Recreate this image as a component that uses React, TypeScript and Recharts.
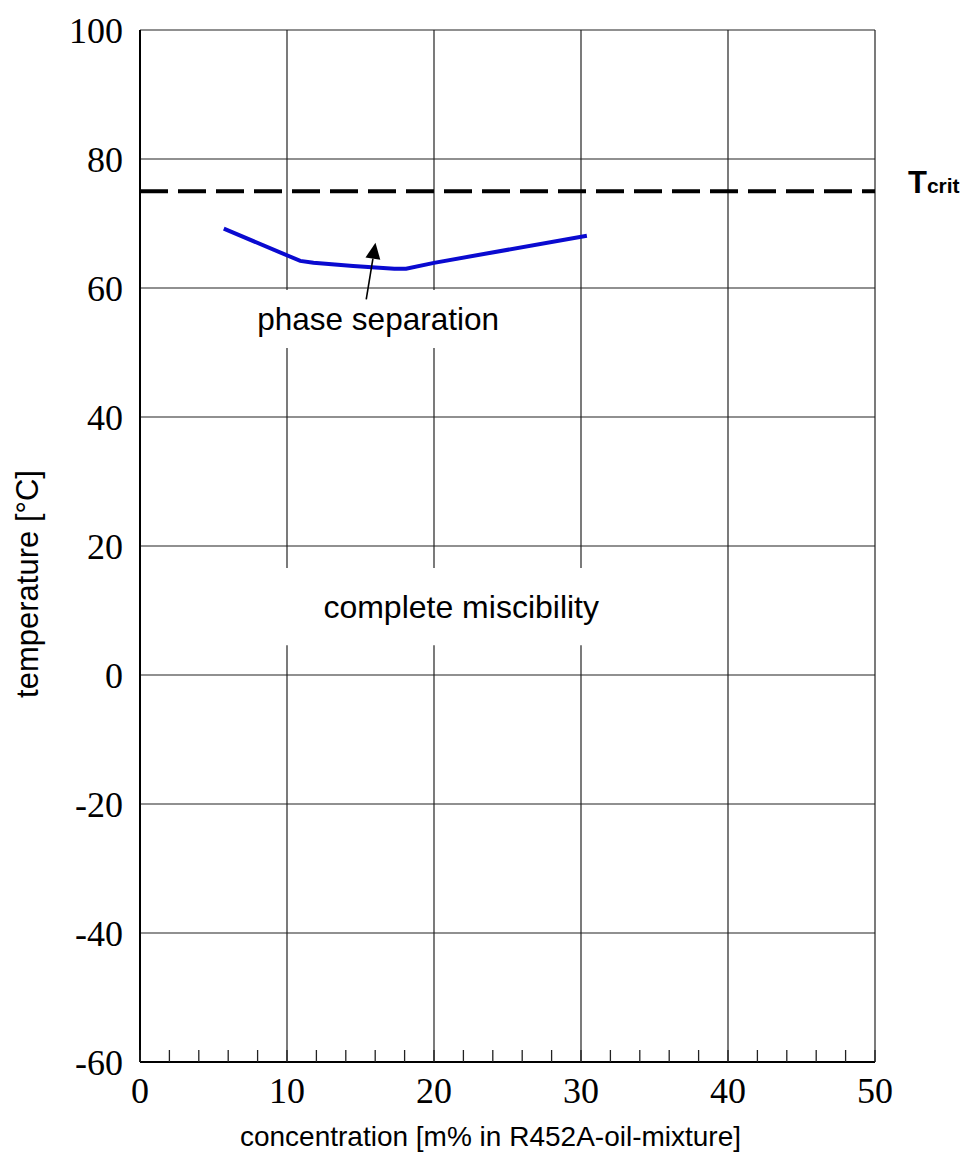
import {
  ComposedChart,
  Line,
  XAxis,
  YAxis,
  CartesianGrid,
  ReferenceLine,
  ReferenceArea,
} from 'recharts'

// miscibility curve of R452A in oil
const concentration = [5.7, 10.9, 11.8, 14.5, 17.3, 18.1, 20.0, 30.4]
const temperature = [69.2, 64.2, 63.9, 63.4, 63.0, 63.0, 63.9, 68.1]

const xTicks = [0, 2, 4, 6, 8, 10, 12, 14, 16, 18, 20, 22, 24, 26, 28, 30, 32, 34, 36, 38, 40, 42, 44, 46, 48, 50]
const xGrid = [10, 20, 30, 40, 50]
const yTicks = [-60, -40, -20, 0, 20, 40, 60, 80, 100]
const tCrit = 75

// annotation boxes (data units) and arrow
const phaseBox = { x1: 7.3, x2: 25.1, y1: 50.7, y2: 59.7 }
const miscBox = { x1: 9.6, x2: 34.1, y1: 4.6, y2: 16.6 }
const arrow = [{ x: 15.39, y: 58.25 }, { x: 16.02, y: 67.0 }]

const data = concentration.map((c, i) => ({ c, t: temperature[i] }))

const sans = 'Liberation Sans, Arial, sans-serif'
const serif = 'Liberation Serif, Times New Roman, serif'

function XTick(props: any) {
  const { x, y, payload } = props
  const v = payload.value
  return (
    <g>
      <line x1={x} y1={y} x2={x} y2={y - 12} stroke="#222" strokeWidth={1.3} />
      {v % 10 === 0 && (
        <text x={x} y={y + 41} textAnchor="middle" fontSize={36} fontFamily={serif} fill="#000">
          {v}
        </text>
      )}
    </g>
  )
}

function ArrowShape(props: any) {
  const { x1, y1, x2, y2 } = props
  const dx = x2 - x1
  const dy = y2 - y1
  const len = Math.sqrt(dx * dx + dy * dy)
  const ux = dx / len
  const uy = dy / len
  const head = 16
  const half = 7.5
  const bx = x2 - ux * head
  const by = y2 - uy * head
  return (
    <g>
      <line x1={x1} y1={y1} x2={bx} y2={by} stroke="#000" strokeWidth={1.6} />
      <polygon
        points={`${x2},${y2} ${bx - uy * half},${by + ux * half} ${bx + uy * half},${by - ux * half}`}
        fill="#000"
      />
    </g>
  )
}

const tcritLabel = (props: any) => {
  const vb = props.viewBox
  return (
    <text x={vb.x + vb.width + 33} y={vb.y + 1.5} fontFamily={sans} fontWeight="bold" fill="#000">
      <tspan fontSize={31}>T</tspan>
      <tspan fontSize={21}>crit</tspan>
    </text>
  )
}

const xTitle = (props: any) => {
  const vb = props.viewBox
  return (
    <text x={vb.x + vb.width / 2 - 17} y={vb.y + 84} textAnchor="middle" fontSize={28} fontFamily={sans} fill="#000">
      concentration [m% in R452A-oil-mixture]
    </text>
  )
}

const yTitle = (props: any) => {
  const vb = props.viewBox
  const cx = vb.x + 27
  const cy = vb.y + vb.height / 2 + 38
  return (
    <text
      x={cx}
      y={cy}
      transform={`rotate(-90 ${cx} ${cy})`}
      textAnchor="middle"
      dominantBaseline="central"
      fontSize={31}
      fontFamily={sans}
      fill="#000"
    >
      temperature [°C]
    </text>
  )
}

export default function App() {
  return (
    <div style={{ position: 'absolute', left: 0, top: 0, width: 965, height: 1155 }}>
      <ComposedChart width={965} height={1155} data={data} margin={{ top: 30, right: 90, bottom: 0, left: 0 }}>
        <CartesianGrid vertical={false} stroke="#222" strokeWidth={1.2} />
        {xGrid.map(g => (
          <ReferenceLine key={g} x={g} stroke="#222" strokeWidth={1.2} zIndex={-90} />
        ))}
        <ReferenceArea
          {...phaseBox}
          fill="#fff"
          fillOpacity={1}
          stroke="none"
          zIndex={-80}
          label={{ value: 'phase separation', position: 'center', fontSize: 31.5, fontFamily: sans, fill: '#000' }}
        />
        <ReferenceArea
          {...miscBox}
          fill="#fff"
          fillOpacity={1}
          stroke="none"
          zIndex={-80}
          label={{ value: 'complete miscibility', position: 'center', fontSize: 32, fontFamily: sans, fill: '#000' }}
        />
        <ReferenceLine y={tCrit} stroke="#000" strokeWidth={4} strokeDasharray="28 10" label={tcritLabel} />
        <Line
          dataKey="t"
          type="linear"
          stroke="#0a0ad0"
          strokeWidth={4}
          dot={false}
          isAnimationActive={false}
        />
        <ReferenceLine segment={arrow} shape={ArrowShape} />
        <XAxis
          dataKey="c"
          type="number"
          domain={[0, 50]}
          ticks={xTicks}
          interval={0}
          height={93}
          tickSize={0}
          tickMargin={0}
          tickLine={false}
          tick={XTick}
          axisLine={{ stroke: '#000', strokeWidth: 2 }}
          label={xTitle}
        />
        <YAxis
          type="number"
          domain={[-60, 100]}
          ticks={yTicks}
          interval={0}
          width={140}
          tickSize={0}
          tickMargin={17}
          tickLine={false}
          tick={{ fill: '#000', fontSize: 36, fontFamily: serif }}
          axisLine={{ stroke: '#000', strokeWidth: 2 }}
          label={yTitle}
        />
      </ComposedChart>
    </div>
  )
}
